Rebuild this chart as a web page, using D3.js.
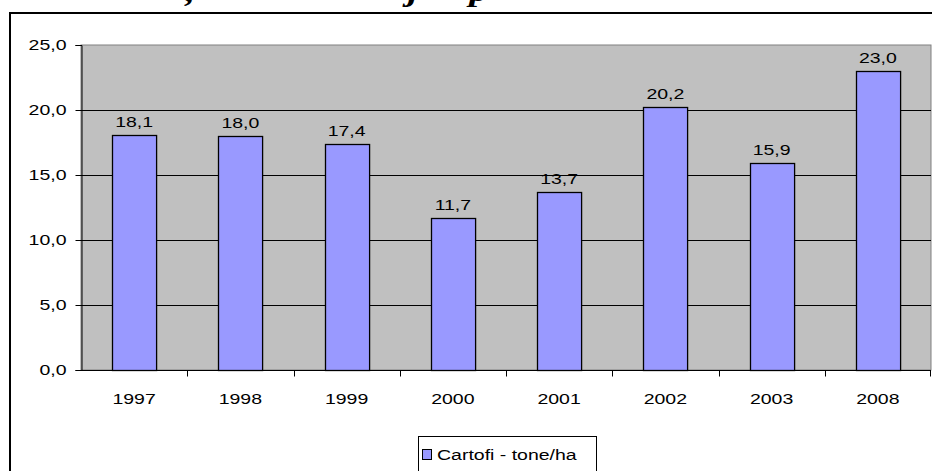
<!DOCTYPE html>
<html>
<head>
<meta charset="utf-8">
<script src="https://cdn.jsdelivr.net/npm/d3@7/dist/d3.min.js"></script>
<style>
  html, body { margin: 0; padding: 0; background: #fff; overflow: hidden; }
  svg { display: block; }
</style>
</head>
<body>
<script>
// ---- data ----
const categories = ["1997", "1998", "1999", "2000", "2001", "2002", "2003", "2008"];
const values = [18.1, 18.0, 17.4, 11.7, 13.7, 20.2, 15.9, 23.0];
const yTicks = [0, 5, 10, 15, 20, 25];
const seriesName = "Cartofi - tone/ha";
const titleFragments = [{t: ",", x: 190}, {t: "j", x: 413}, {t: "p", x: 479}];

const W = 932, H = 471;
const SX = 1.3; // horizontal stretch of the reference text
const FONT = "Arial, 'Liberation Sans', sans-serif";
const FS = 15;
const svg = d3.select("body").append("svg").attr("width", W).attr("height", H);
const fmt = v => d3.format(".1f")(v).replace(".", ",");

// cropped title (only descenders visible)
svg.selectAll("text.title").data(titleFragments).enter().append("text")
  .attr("class", "title")
  .attr("transform", d => `translate(${d.x},1) scale(${SX},1)`)
  .attr("font-family", "'Liberation Serif', 'Times New Roman', serif")
  .attr("font-weight", "bold").attr("font-style", "italic")
  .attr("font-size", 30)
  .attr("text-anchor", "middle")
  .text(d => d.t);

// outer chart border
svg.append("rect").attr("x", 10).attr("y", 13).attr("width", W + 20).attr("height", H + 20)
  .attr("fill", "#fff").attr("stroke", "#000").attr("stroke-width", 2);

const plot = {left: 81, right: 931, top: 45, bottom: 370};
const x = d3.scaleBand().domain(categories).range([plot.left, plot.right]).paddingInner(0.585).paddingOuter(0.2925);
const xb = d3.scaleBand().domain(categories).range([plot.left, plot.right]);
const y = d3.scaleLinear().domain([0, 25]).range([plot.bottom, plot.top]);

// plot area
svg.append("rect").attr("x", plot.left).attr("y", plot.top)
  .attr("width", plot.right - plot.left).attr("height", plot.bottom - plot.top)
  .attr("fill", "#C0C0C0").attr("stroke", "#808080").attr("stroke-width", 1);

// gridlines
svg.selectAll("line.grid").data(yTicks.filter(t => t > 0 && t < 25)).enter().append("line")
  .attr("x1", plot.left).attr("x2", plot.right)
  .attr("y1", d => Math.round(y(d)) + 0.5).attr("y2", d => Math.round(y(d)) + 0.5)
  .attr("stroke", "#000").attr("stroke-width", 1);

// y axis
const yAxis = d3.axisLeft(y).tickValues(yTicks).tickFormat(fmt).tickSize(6).tickPadding(0);
const gy = svg.append("g").attr("transform", `translate(${plot.left + 0.5},0)`).call(yAxis);
gy.select(".domain").attr("stroke", "#000");
gy.selectAll(".tick text")
  .attr("x", null)
  .attr("transform", `translate(-15,0) scale(${SX},1)`)
  .attr("font-family", FONT).attr("font-size", FS).attr("fill", "#000");

// bars
svg.selectAll("rect.bar").data(values).enter().append("rect")
  .attr("class", "bar")
  .attr("x", (d, i) => Math.round(x(categories[i])) + 0.5)
  .attr("y", d => Math.round(y(d)) + 0.5)
  .attr("width", x.bandwidth())
  .attr("height", d => Math.round(y(0)) - Math.round(y(d)))
  .attr("fill", "#9999FF").attr("stroke", "#000").attr("stroke-width", 1.3);

// x axis
const gx = svg.append("g").attr("transform", `translate(0,${plot.bottom + 0.5})`);
gx.append("line").attr("x1", plot.left).attr("x2", plot.right).attr("stroke", "#000");
gx.selectAll("line.tick").data(categories.slice(1)).enter().append("line")
  .attr("x1", d => Math.round(xb(d)) + 0.5).attr("x2", d => Math.round(xb(d)) + 0.5)
  .attr("y1", 0).attr("y2", 6).attr("stroke", "#000");
gx.append("line").attr("x1", plot.right - 0.5).attr("x2", plot.right - 0.5).attr("y1", 0).attr("y2", 6).attr("stroke", "#000");
gx.selectAll("text").data(categories).enter().append("text")
  .attr("transform", d => `translate(${xb(d) + xb.bandwidth() / 2},33) scale(${SX},1)`)
  .attr("text-anchor", "middle")
  .attr("font-family", FONT).attr("font-size", FS)
  .text(d => d);

// value labels
svg.selectAll("text.val").data(values).enter().append("text")
  .attr("class", "val")
  .attr("transform", (d, i) => `translate(${x(categories[i]) + x.bandwidth() / 2},${y(d) - 8}) scale(${SX},1)`)
  .attr("text-anchor", "middle")
  .attr("font-family", FONT).attr("font-size", FS)
  .text(d => fmt(d));

// legend
const lg = svg.append("g");
lg.append("rect").attr("x", 418.5).attr("y", 436.5).attr("width", 178).attr("height", 50)
  .attr("fill", "#fff").attr("stroke", "#000").attr("stroke-width", 1);
lg.append("rect").attr("x", 422.5).attr("y", 449.5).attr("width", 9).attr("height", 10)
  .attr("fill", "#9999FF").attr("stroke", "#000").attr("stroke-width", 1);
lg.append("text").attr("transform", `translate(437,460) scale(${SX},1)`)
  .attr("font-family", FONT).attr("font-size", FS)
  .text(seriesName);
</script>
</body>
</html>
